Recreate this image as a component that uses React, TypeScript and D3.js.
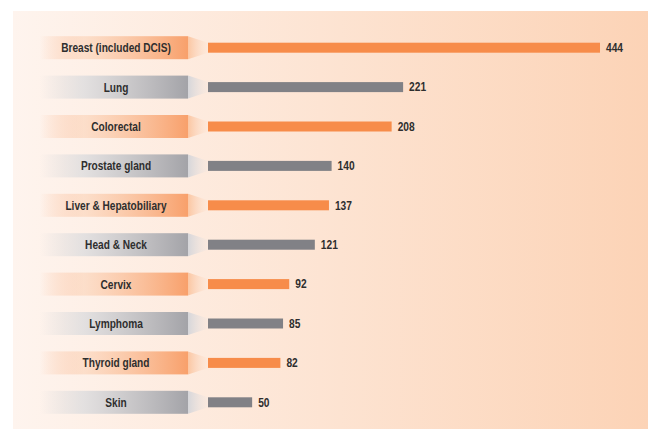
import React from "react";
import * as d3 from "d3";

const categories = [
  "Breast (included DCIS)",
  "Lung",
  "Colorectal",
  "Prostate gland",
  "Liver & Hepatobiliary",
  "Head & Neck",
  "Cervix",
  "Lymphoma",
  "Thyroid gland",
  "Skin",
];
const values = [444, 221, 208, 140, 137, 121, 92, 85, 82, 50];

const W = 648;
const H = 429;

export default function App() {
  const x = d3.scaleLinear().domain([0, 444]).range([208, 600]);
  const y = d3.scaleBand<string>().domain(categories).range([28, 422]).paddingInner(0);
  const barH = 10;
  const boxH = 23;
  const font = "'Liberation Sans', Arial, sans-serif";
  return (
    <svg width={W} height={H} style={{ position: "absolute", left: 0, top: 0 }}>
      <defs>
        <linearGradient id="bg" x1="0" x2="1" y1="0" y2="0">
          <stop offset="0" stopColor="#fef4ee" />
          <stop offset="1" stopColor="#fcd3b6" />
        </linearGradient>
        <linearGradient id="lblO" x1="0" x2="1" y1="0" y2="0">
          <stop offset="0" stopColor="#f9a06c" stopOpacity={0} />
          <stop offset="0.3" stopColor="#fbd2b6" stopOpacity={0.6} />
          <stop offset="1" stopColor="#f8a06b" />
        </linearGradient>
        <linearGradient id="lblG" x1="0" x2="1" y1="0" y2="0">
          <stop offset="0" stopColor="#d8d8da" stopOpacity={0} />
          <stop offset="0.3" stopColor="#dcdcde" stopOpacity={0.8} />
          <stop offset="1" stopColor="#a3a3a8" />
        </linearGradient>
        <linearGradient id="arO" x1="0" x2="1" y1="0" y2="0">
          <stop offset="0" stopColor="#fbc6a2" />
          <stop offset="1" stopColor="#fde4d3" stopOpacity={0.3} />
        </linearGradient>
        <linearGradient id="arG" x1="0" x2="1" y1="0" y2="0">
          <stop offset="0" stopColor="#d6d6da" />
          <stop offset="1" stopColor="#f1e6e0" stopOpacity={0.3} />
        </linearGradient>
      </defs>
      <rect x={13} y={11} width={W - 13} height={H - 11} fill="url(#bg)" />
      {categories.map((c, i) => {
        const cy = (y(c) as number) + y.bandwidth() / 2;
        const orange = i % 2 === 0;
        const bx0 = 40;
        const bx1 = 188;
        const path = d3.path();
        path.moveTo(bx1, cy - boxH / 2);
        path.lineTo(x(0), cy - barH / 2);
        path.lineTo(x(0), cy + barH / 2);
        path.lineTo(bx1, cy + boxH / 2);
        path.closePath();
        return (
          <g key={c}>
            <rect
              x={bx0}
              y={cy - boxH / 2}
              width={bx1 - bx0}
              height={boxH}
              fill={orange ? "url(#lblO)" : "url(#lblG)"}
            />
            <path d={path.toString()} fill={orange ? "url(#arO)" : "url(#arG)"} />
            <text
              transform={`translate(116,${cy}) scale(0.81,1)`}
              dy="0.36em"
              textAnchor="middle"
              fontFamily={font}
              fontWeight="bold"
              fontSize={12.5}
              fill="#2e2e2e"
            >
              {c}
            </text>
            <rect
              x={x(0)}
              y={cy - barH / 2}
              width={x(values[i]) - x(0)}
              height={barH}
              fill={orange ? "#f78c4a" : "#818186"}
            />
            <text
              transform={`translate(${x(values[i]) + 6},${cy}) scale(0.85,1)`}
              dy="0.36em"
              fontFamily={font}
              fontWeight="bold"
              fontSize={12}
              fill="#2e2e2e"
            >
              {values[i]}
            </text>
          </g>
        );
      })}
    </svg>
  );
}
